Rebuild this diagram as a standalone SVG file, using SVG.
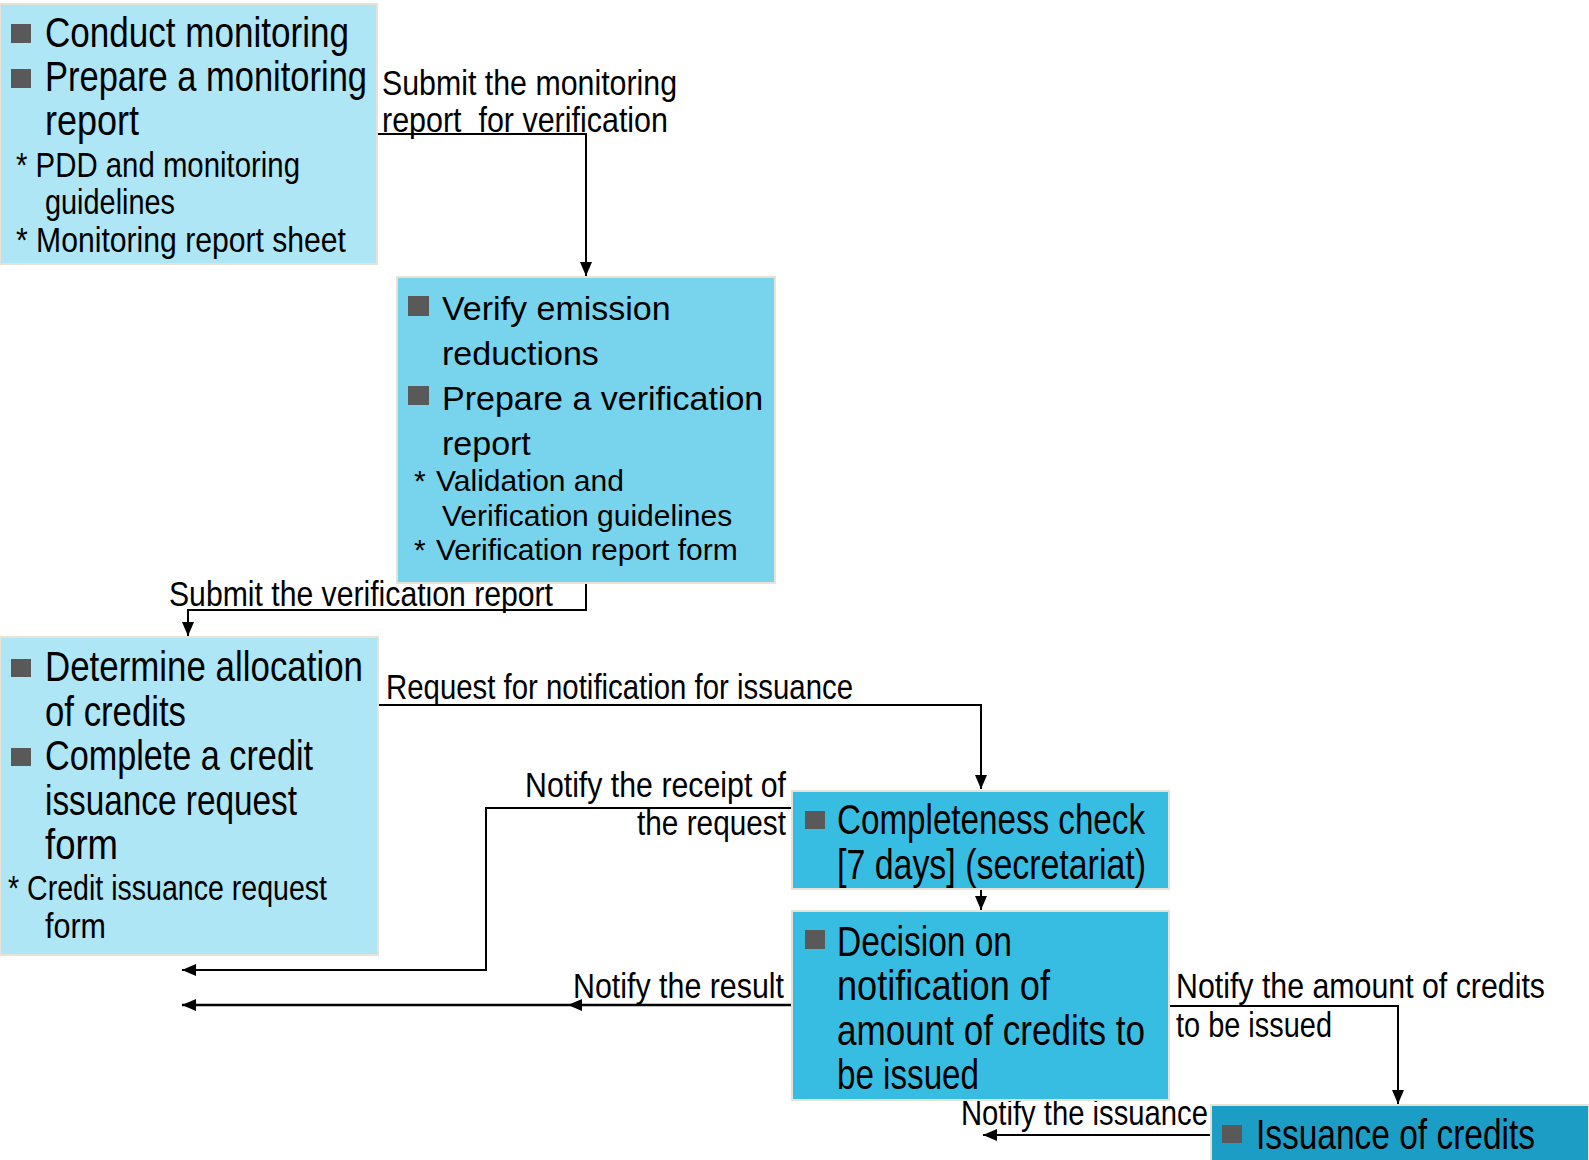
<svg xmlns="http://www.w3.org/2000/svg" width="1589" height="1160" viewBox="0 0 1589 1160">
<defs>
<marker id="arr" markerWidth="14" markerHeight="12" refX="14" refY="6" orient="auto" markerUnits="userSpaceOnUse">
<path d="M0,0 L14,6 L0,12 Z" fill="#000"/>
</marker>
<style>
.box{stroke:#e6e3d6;stroke-width:2}
.b1{fill:#aee6f6}
.b2{fill:#77d4ec}
.b4{fill:#38bde2}
.b6{fill:#1c9dc6}
.bul{fill:#595959}
.t{font-family:"Liberation Sans",Arial,sans-serif;fill:#000}
.m{font-size:42px}
.s{font-size:35px}
.w{font-family:"Liberation Sans",Arial,sans-serif;fill:#000}
.wm{font-size:34px}
.ws{font-size:30px}
.lbl{font-family:"Liberation Sans",Arial,sans-serif;font-size:35px;fill:#000}
.end{text-anchor:end}
.ln{fill:none;stroke:#000;stroke-width:2}
</style>
</defs>
<rect width="1589" height="1160" fill="#fff"/>

<g id="connectors">
<path class="ln" d="M378,134 H586 V276" marker-end="url(#arr)"/>
<path class="ln" d="M586,583 V610 H188 V636" marker-end="url(#arr)"/>
<path class="ln" d="M378,705 H981 V789" marker-end="url(#arr)"/>
<path class="ln" d="M792,808 H486 V970 H182" marker-end="url(#arr)"/>
<path class="ln" d="M981,889 V910" marker-end="url(#arr)"/>
<path class="ln" style="stroke-width:2.5" d="M792,1005 H568" marker-end="url(#arr)"/>
<path class="ln" style="stroke-width:2.5" d="M568,1005 H182" marker-end="url(#arr)"/>
<path class="ln" d="M1169,1006 H1398 V1104" marker-end="url(#arr)"/>
<path class="ln" d="M1211,1135 H983" marker-end="url(#arr)"/>
<text class="lbl" x="382" y="95" textLength="295" lengthAdjust="spacingAndGlyphs">Submit the monitoring</text>
<text class="lbl" x="382" y="132" xml:space="preserve" textLength="286" lengthAdjust="spacingAndGlyphs">report  for verification</text>
<text class="lbl" x="169" y="606" textLength="384" lengthAdjust="spacingAndGlyphs">Submit the verification report</text>
<text class="lbl" x="386" y="699" textLength="467" lengthAdjust="spacingAndGlyphs">Request for notification for issuance</text>
<text class="lbl" x="525" y="797" textLength="261" lengthAdjust="spacingAndGlyphs">Notify the receipt of</text>
<text class="lbl" x="637" y="835" textLength="149" lengthAdjust="spacingAndGlyphs">the request</text>
<text class="lbl" x="573" y="998" textLength="211" lengthAdjust="spacingAndGlyphs">Notify the result</text>
<text class="lbl" x="1176" y="998" textLength="369" lengthAdjust="spacingAndGlyphs">Notify the amount of credits</text>
<text class="lbl" x="1176" y="1037" textLength="156" lengthAdjust="spacingAndGlyphs">to be issued</text>
<text class="lbl" x="961" y="1125" textLength="247" lengthAdjust="spacingAndGlyphs">Notify the issuance</text>
</g>

<g id="n1">
<rect class="box b1" x="0" y="4" width="377" height="260"/>
<rect class="bul" x="11" y="24" width="20" height="19"/>
<rect class="bul" x="11" y="69" width="20" height="19"/>
<text class="t m" x="45" y="47" textLength="304" lengthAdjust="spacingAndGlyphs">Conduct monitoring</text>
<text class="t m" x="45" y="91" textLength="322" lengthAdjust="spacingAndGlyphs">Prepare a monitoring</text>
<text class="t m" x="45" y="135" textLength="94" lengthAdjust="spacingAndGlyphs">report</text>
<text class="t s" x="16" y="177" textLength="284" lengthAdjust="spacingAndGlyphs">* PDD and monitoring</text>
<text class="t s" x="45" y="214" textLength="130" lengthAdjust="spacingAndGlyphs">guidelines</text>
<text class="t s" x="16" y="252" textLength="330" lengthAdjust="spacingAndGlyphs">* Monitoring report sheet</text>
</g>

<g id="n2">
<rect class="box b2" x="397" y="277" width="378" height="306"/>
<rect class="bul" x="408" y="296" width="21" height="20"/>
<rect class="bul" x="408" y="386" width="21" height="19"/>
<text class="w wm" x="442" y="320">Verify emission</text>
<text class="w wm" x="442" y="365">reductions</text>
<text class="w wm" x="442" y="410">Prepare a verification</text>
<text class="w wm" x="442" y="455">report</text>
<text class="w ws" x="414" y="491">*</text>
<text class="w ws" x="436" y="491">Validation and</text>
<text class="w ws" x="442" y="526">Verification guidelines</text>
<text class="w ws" x="414" y="560">*</text>
<text class="w ws" x="436" y="560">Verification report form</text>
</g>

<g id="n3">
<rect class="box b1" x="0" y="637" width="378" height="318"/>
<rect class="bul" x="11" y="659" width="20" height="18"/>
<rect class="bul" x="11" y="748" width="20" height="18"/>
<text class="t m" x="45" y="681" textLength="318" lengthAdjust="spacingAndGlyphs">Determine allocation</text>
<text class="t m" x="45" y="726" textLength="141" lengthAdjust="spacingAndGlyphs">of credits</text>
<text class="t m" x="45" y="770" textLength="268" lengthAdjust="spacingAndGlyphs">Complete a credit</text>
<text class="t m" x="45" y="815" textLength="252" lengthAdjust="spacingAndGlyphs">issuance request</text>
<text class="t m" x="45" y="859" textLength="73" lengthAdjust="spacingAndGlyphs">form</text>
<text class="t s" x="8" y="900" textLength="319" lengthAdjust="spacingAndGlyphs">* Credit issuance request</text>
<text class="t s" x="45" y="938" textLength="61" lengthAdjust="spacingAndGlyphs">form</text>
</g>

<g id="n4">
<rect class="box b4" x="792" y="791" width="377" height="98"/>
<rect class="bul" x="805" y="811" width="20" height="18"/>
<text class="t m" x="837" y="834" textLength="308" lengthAdjust="spacingAndGlyphs">Completeness check</text>
<text class="t m" x="837" y="879" textLength="309" lengthAdjust="spacingAndGlyphs">[7 days] (secretariat)</text>
</g>

<g id="n5">
<rect class="box b4" x="792" y="911" width="377" height="189"/>
<rect class="bul" x="805" y="930" width="20" height="19"/>
<text class="t m" x="837" y="956" textLength="175" lengthAdjust="spacingAndGlyphs">Decision on</text>
<text class="t m" x="837" y="1000" textLength="213" lengthAdjust="spacingAndGlyphs">notification of</text>
<text class="t m" x="837" y="1045" textLength="308" lengthAdjust="spacingAndGlyphs">amount of credits to</text>
<text class="t m" x="837" y="1089" textLength="142" lengthAdjust="spacingAndGlyphs">be issued</text>
</g>

<g id="n6">
<rect class="box b6" x="1211" y="1105" width="378" height="57"/>
<rect class="bul" x="1222" y="1125" width="20" height="18"/>
<text class="t m" x="1256" y="1149" textLength="279" lengthAdjust="spacingAndGlyphs">Issuance of credits</text>
</g>
</svg>
